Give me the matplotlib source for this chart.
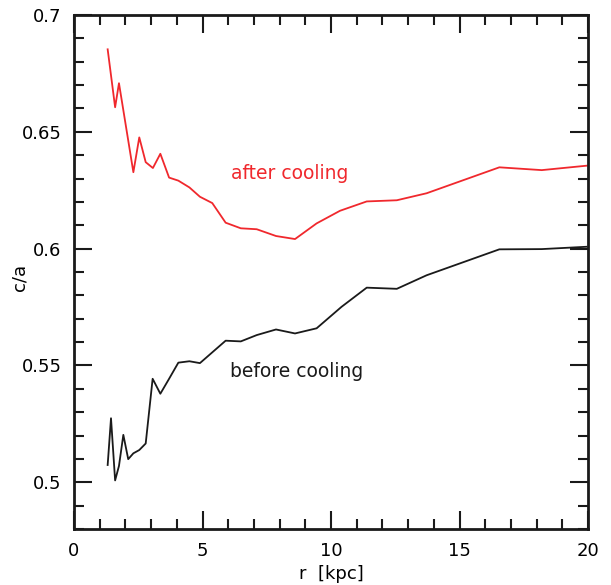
import numpy as np
import matplotlib
matplotlib.use('Agg')
import matplotlib.pyplot as plt
from matplotlib.ticker import MultipleLocator, FuncFormatter

# c/a profile after cooling (red)
r_after = [1.31, 1.60, 1.75, 2.31, 2.54, 2.79, 3.07, 3.36, 3.70, 4.06, 4.49,
           4.90, 5.38, 5.90, 6.49, 7.11, 7.86, 8.60, 9.44, 10.35, 11.39, 12.56,
           13.72, 16.55, 18.20, 19.95]
ca_after = [0.6853, 0.6605, 0.6708, 0.6327, 0.6476, 0.6370, 0.6345, 0.6406,
            0.6304, 0.6291, 0.6262, 0.6222, 0.6195, 0.6111, 0.6087, 0.6083,
            0.6054, 0.6041, 0.6108, 0.6162, 0.6202, 0.6207, 0.6237, 0.6348,
            0.6336, 0.6355]

# c/a profile before cooling (black)
r_before = [1.31, 1.44, 1.60, 1.75, 1.92, 2.11, 2.31, 2.54, 2.79, 3.06, 3.36,
            3.70, 4.06, 4.49, 4.90, 5.90, 6.49, 7.11, 7.86, 8.60, 9.44, 10.41,
            11.39, 12.56, 13.72, 16.55, 18.20, 19.95]
ca_before = [0.5074, 0.5274, 0.5008, 0.5070, 0.5203, 0.5099, 0.5124, 0.5138,
             0.5166, 0.5443, 0.5379, 0.5443, 0.5512, 0.5518, 0.5510, 0.5606,
             0.5603, 0.5630, 0.5654, 0.5637, 0.5659, 0.5751, 0.5833, 0.5828,
             0.5886, 0.5997, 0.5998, 0.6008]

plt.rcParams['font.family'] = 'DejaVu Sans'

fig = plt.figure(figsize=(6.11, 5.85), dpi=100)
ax = fig.add_axes([0.1211, 0.0957, 0.8413, 0.8787])

ax.plot(r_after, ca_after, color='#f0282d', lw=1.3)
ax.plot(r_before, ca_before, color='#1a1a1a', lw=1.3)

ax.text(8.4, 0.632, 'after cooling', color='#f0282d', fontsize=13.5,
        ha='center', va='center')
ax.text(8.68, 0.5472, 'before cooling', color='#1a1a1a', fontsize=13.5,
        ha='center', va='center')

ax.set_xlim(0, 20)
ax.set_ylim(0.48, 0.7)
ax.xaxis.set_major_locator(MultipleLocator(5))
ax.xaxis.set_minor_locator(MultipleLocator(1))
ax.yaxis.set_major_locator(MultipleLocator(0.05))
ax.yaxis.set_minor_locator(MultipleLocator(0.01))
ax.yaxis.set_major_formatter(FuncFormatter(lambda v, p: '%g' % round(v, 3)))

ax.tick_params(which='both', direction='in', top=True, right=True,
               labelsize=13, color='#1a1a1a')
ax.tick_params(which='major', length=13, width=1.5)
ax.tick_params(which='minor', length=7, width=1.5)
ax.tick_params(axis='x', pad=9)
ax.tick_params(axis='y', pad=9)
for s in ax.spines.values():
    s.set_linewidth(2)
    s.set_color('#1a1a1a')

ax.set_xlabel('r  [kpc]', fontsize=13, labelpad=4)
ax.set_ylabel('c/a', fontsize=13)
ax.yaxis.set_label_coords(-0.088, 0.49)

fig.savefig('out.png', dpi=100)
